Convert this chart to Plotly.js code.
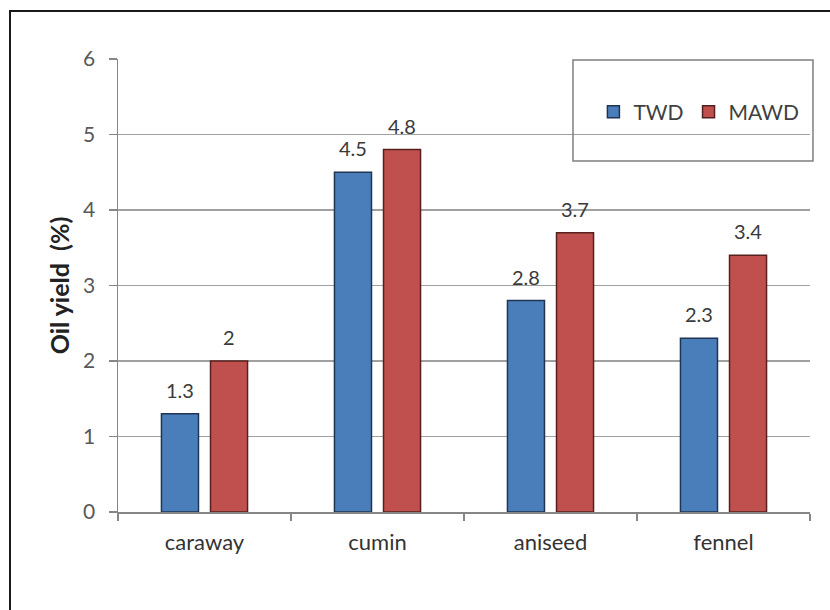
<!DOCTYPE html>
<html>
<head>
<meta charset="utf-8">
<script src="https://cdn.plot.ly/plotly-3.0.1.min.js"></script>
<style>
  html, body { margin: 0; padding: 0; background: #ffffff; }
  #wrap { position: relative; width: 830px; height: 610px; overflow: hidden; }
  #chart { position: absolute; left: 0; top: 0; width: 830px; height: 610px; }
  /* chart frame: only the top and left edges fall inside the page */
  #frame {
    position: absolute; left: 9px; top: 10px; width: 840px; height: 620px;
    border-left: 2px solid #1a1a1a; border-top: 2px solid #1a1a1a;
    pointer-events: none; box-sizing: border-box;
  }
</style>
</head>
<body>
<div id="wrap">
  <div id="chart"></div>
  <div id="frame"></div>
</div>
<script>
// Essential oil yield by seed type and distillation method
const seeds = ['caraway', 'cumin', 'aniseed', 'fennel'];
const twdYield = [1.3, 4.5, 2.8, 2.3];
const mawdYield = [2, 4.8, 3.7, 3.4];
const seriesNames = ['TWD', 'MAWD'];
const yTicks = [0, 1, 2, 3, 4, 5, 6];

const FONT = 'Lato, "Open Sans", sans-serif';
const BLUE = '#4a7ebb', BLUE_EDGE = '#1f3553';
const RED = '#c0504d', RED_EDGE = '#55201e';

const traces = [
  {
    type: 'bar', name: seriesNames[0], x: seeds, y: twdYield,
    marker: { color: BLUE, line: { color: BLUE_EDGE, width: 1.5 } },
    hoverinfo: 'x+y'
  },
  {
    type: 'bar', name: seriesNames[1], x: seeds, y: mawdYield,
    marker: { color: RED, line: { color: RED_EDGE, width: 1.5 } },
    hoverinfo: 'x+y'
  }
];

// value labels above each bar, shifted onto its half of the group
const labels = [];
seeds.forEach((s, i) => {
  labels.push({ x: s, y: twdYield[i], xref: 'x', yref: 'y', text: String(twdYield[i]),
    showarrow: false, xshift: -25, yshift: 24, yanchor: 'middle',
    font: { family: FONT, size: 20, color: '#3a3a3a' } });
  labels.push({ x: s, y: mawdYield[i], xref: 'x', yref: 'y', text: String(mawdYield[i]),
    showarrow: false, xshift: 24, yshift: 24, yanchor: 'middle',
    font: { family: FONT, size: 20, color: '#3a3a3a' } });
});

const layout = {
  width: 830, height: 610,
  margin: { l: 118, r: 20, t: 59, b: 98 },
  paper_bgcolor: '#ffffff', plot_bgcolor: '#ffffff',
  font: { family: FONT, color: '#404040' },
  barmode: 'group', bargap: 0.433, bargroupgap: 0.245,
  showlegend: true,
  legend: {
    orientation: 'h', x: 0.687, xanchor: 'left', y: 0.883, yanchor: 'middle',
    bgcolor: 'rgba(0,0,0,0)', borderwidth: 0,
    font: { family: FONT, size: 21, color: '#404040' },
    itemwidth: 30
  },
  xaxis: {
    type: 'category', tickson: 'boundaries', ticks: 'outside', ticklen: 7,
    tickcolor: '#868686', tickwidth: 1.5,
    showline: true, linecolor: '#868686', linewidth: 1.5,
    showgrid: false, ticklabelstandoff: 10,
    tickfont: { family: FONT, size: 22, color: '#333333' }
  },
  yaxis: {
    range: [0, 6], tickvals: yTicks, ticks: 'outside', ticklen: 8,
    tickcolor: '#868686', tickwidth: 1.5,
    showline: true, linecolor: '#868686', linewidth: 1.5,
    showgrid: true, gridcolor: '#a0a0a0', gridwidth: 1.5, zeroline: false,
    ticklabelstandoff: 9,
    tickfont: { family: FONT, size: 21, color: '#595959' },
    title: { text: 'Oil yield  (%)', standoff: 6,
      font: { family: FONT, size: 25, color: '#222222', weight: 'bold' } }
  },
  shapes: [
    { type: 'rect', xref: 'paper', yref: 'paper', x0: 0.6575, x1: 1.0043, y0: 0.7748, y1: 0.9978,
      line: { color: '#7f7f7f', width: 1.5 }, fillcolor: 'rgba(0,0,0,0)' }
  ],
  annotations: labels
};

Plotly.newPlot('chart', traces, layout, { displayModeBar: false, staticPlot: true });
</script>
</body>
</html>
